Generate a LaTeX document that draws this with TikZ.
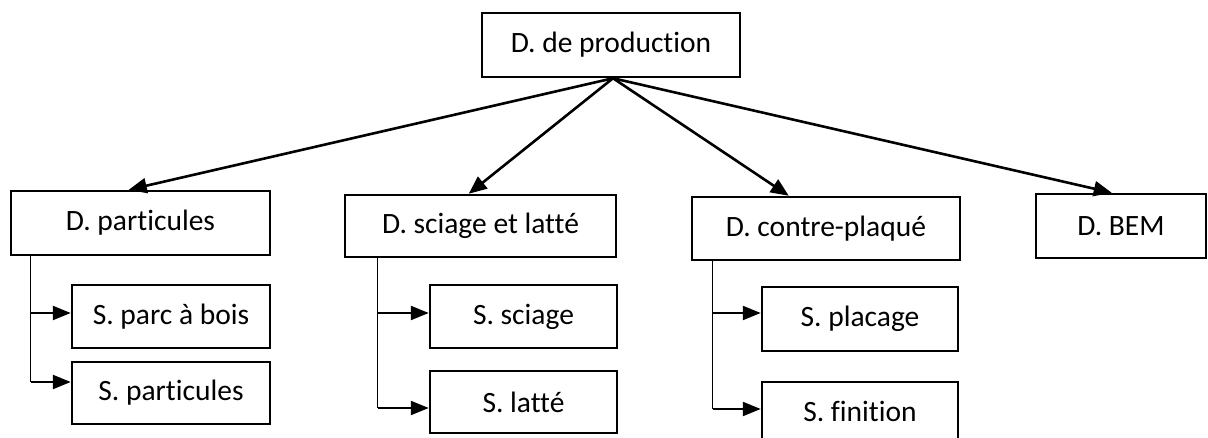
\documentclass[tikz,border=0pt]{standalone}
\usepackage{fontspec}
\setmainfont[RawFeature={-liga;-clig;-dlig}]{Carlito}
\usetikzlibrary{arrows.meta,calc}
\tikzset{
  boxnode/.style={draw=black, line width=2.5pt, rectangle, inner sep=0pt, font=\fontsize{29.5}{34}\selectfont},
  mainarrow/.style={line width=2.6pt, -{Triangle[length=18pt,width=15pt]}},
  elbow/.style={line width=1.4pt},
  subarrow/.style={line width=2.3pt, -{Triangle[length=18pt,width=14pt]}}
}
\newcommand{\bx}[6]{% name, x1, y1, x2, y2, text
  \node[boxnode, minimum width={#4-#2}, minimum height={#5-#3}] (#1) at ({(#2+#4)/2},{(#3+#5)/2}) {#6};}
\begin{document}
\begin{tikzpicture}[x=1pt,y=-1pt]
\useasboundingbox (0,0) rectangle (1208,438);
\clip (0,0) rectangle (1208,438);
\fill[white] (0,0) rectangle (1208,438);
\bx{top}{482}{13}{740}{77}{D. de production}
\bx{dpart}{11}{191}{270}{255}{D. particules}
\bx{dsci}{345}{195}{616}{257}{D. sciage et latté}
\bx{dcon}{692}{197}{960}{260}{D. contre-plaqué}
\bx{dbem}{1036}{194}{1206}{258}{D. BEM}
\bx{spb}{72}{285}{270}{348}{S. parc à bois}
\bx{spart}{72}{362}{270}{424}{S. particules}
\bx{ssci}{430}{285}{617}{348}{S. sciage}
\bx{slat}{430}{371}{617}{433}{S. latté}
\bx{spla}{762}{287}{958}{351}{S. placage}
\bx{sfin}{762}{382}{958}{440}{S. finition}
% main arrows
\coordinate (apex) at ($(top.south)+(2,0)$);
\draw[mainarrow] (apex) -- ($(dpart.north west)+(119,0)$);
\draw[mainarrow] (apex) -- ($(dsci.north west)+(125,0)$);
\draw[mainarrow] (apex) -- ($(dcon.north west)+(98,0)$);
\draw[mainarrow] (apex) -- ($(dbem.north west)+(77,0)$);
% elbow group 1
\coordinate (v1) at ($(dpart.south west)+(21,0)$);
\coordinate (t11) at ($(spb.west)+(0,-3.5)$);
\coordinate (t12) at ($(spart.west)+(0,-11)$);
\draw[elbow] (v1) -- (v1 |- t12);
\draw[subarrow] (v1 |- t11) -- (t11);
\draw[subarrow] (v1 |- t12) -- (t12);
% elbow group 2
\coordinate (v2) at ($(dsci.south west)+(34,0)$);
\coordinate (t21) at ($(ssci.west)+(0,-3.5)$);
\coordinate (t22) at ($(slat.west)+(0,6)$);
\draw[elbow] (v2) -- (v2 |- t22);
\draw[subarrow] (v2 |- t21) -- (t21);
\draw[subarrow] (v2 |- t22) -- (t22);
% elbow group 3
\coordinate (v3) at ($(dcon.south west)+(22,0)$);
\coordinate (t31) at ($(spla.west)+(0,-6)$);
\coordinate (t32) at ($(sfin.west)+(0,-2)$);
\draw[elbow] (v3) -- (v3 |- t32);
\draw[subarrow] (v3 |- t31) -- (t31);
\draw[subarrow] (v3 |- t32) -- (t32);
\end{tikzpicture}
\end{document}
